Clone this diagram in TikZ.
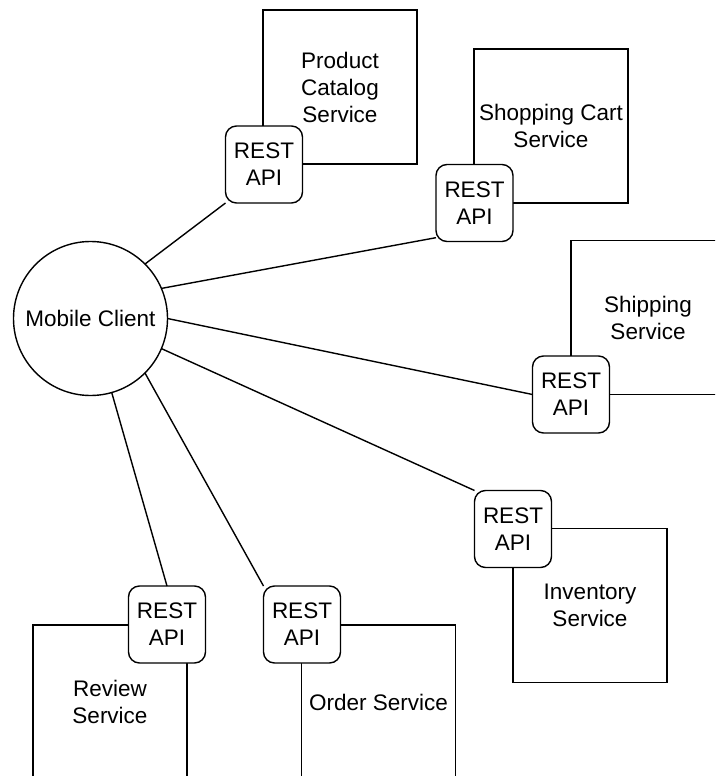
\documentclass[tikz,border=0pt]{standalone}
\usepackage{fontspec}
\setmainfont{Liberation Sans}
\begin{document}
\begin{tikzpicture}[x=1pt,y=-1pt,
  every node/.style={font=\fontsize{22.5}{27}\selectfont, align=center, inner sep=0pt, outer sep=0pt},
  svc/.style={draw, line width=1.4pt, minimum width=154pt, minimum height=154pt, fill=white},
  api/.style={draw, line width=1.4pt, rounded corners=11pt, minimum width=77pt, minimum height=77pt, fill=white},
  client/.style={draw, circle, line width=1.4pt, minimum size=154pt},
  link/.style={line width=1.4pt}]
\useasboundingbox (0,0) rectangle (715,776);
\clip (0,0) rectangle (715,776);

% services
\node[svc] (catalog)   at (340,87)    {Product\\Catalog\\Service};
\node[svc] (cart)      at (551,126)   {Shopping Cart\\Service};
\node[svc] (shipping)  at (648,317.5) {Shipping\\Service};
\node[svc] (inventory) at (590,605.5) {Inventory\\Service};
\node[svc] (review)    at (110,702)   {Review\\Service};
\node[svc] (order)     at (378.5,702) {Order Service};

% API gateways of each service
\node[api] (apiCatalog)   at (264,164.5) {REST\\API};
\node[api] (apiCart)      at (474.5,203) {REST\\API};
\node[api] (apiShipping)  at (571,394.5) {REST\\API};
\node[api] (apiInventory) at (513,529)   {REST\\API};
\node[api] (apiReview)    at (167,624.5) {REST\\API};
\node[api] (apiOrder)     at (302,624.5) {REST\\API};

% client
\node[client] (client) at (90.5,318.5) {Mobile Client};

% connections
\draw[link] (client.45)  -- (apiCatalog.225);
\draw[link] (client.23)  -- (apiCart.222);
\draw[link] (client.0)   -- (apiShipping.west);
\draw[link] (client.-23) -- (apiInventory.135);
\draw[link] (client.-74) -- (apiReview.north);
\draw[link] (client.-45) -- (apiOrder.135);
\end{tikzpicture}
\end{document}
